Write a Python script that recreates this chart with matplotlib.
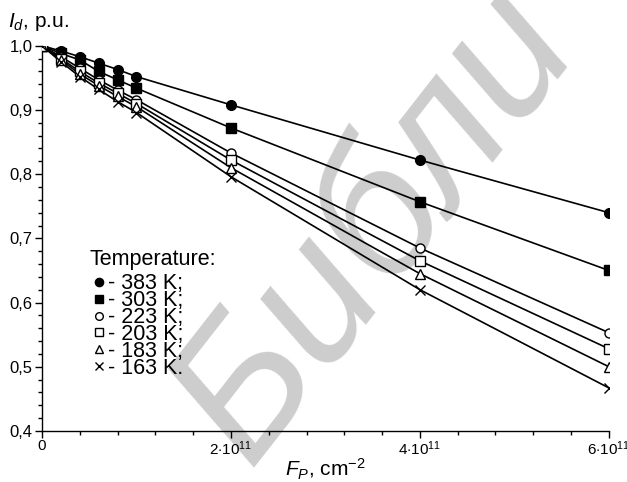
import numpy as np
import matplotlib
matplotlib.use("Agg")
import matplotlib.pyplot as plt
from matplotlib.ticker import MultipleLocator, FuncFormatter

plt.rcParams['font.family'] = ['Liberation Sans', 'DejaVu Sans']
plt.rcParams['mathtext.fontset'] = 'custom'
plt.rcParams['mathtext.rm'] = 'Liberation Sans'
plt.rcParams['mathtext.it'] = 'Liberation Sans:italic'

# fluence, 1e11 cm^-2
fluence = [0, 0.2, 0.4, 0.6, 0.8, 1.0, 2.0, 4.0, 6.0]

# relative current for each temperature
i_383 = [1.0, 0.992, 0.983, 0.973, 0.963, 0.952, 0.908, 0.822, 0.740]
i_303 = [1.0, 0.988, 0.978, 0.960, 0.947, 0.934, 0.872, 0.757, 0.650]
i_223 = [1.0, 0.983, 0.965, 0.947, 0.931, 0.916, 0.833, 0.685, 0.553]
i_203 = [1.0, 0.980, 0.960, 0.942, 0.926, 0.910, 0.822, 0.665, 0.528]
i_183 = [1.0, 0.978, 0.956, 0.938, 0.921, 0.905, 0.810, 0.645, 0.500]
i_163 = [1.0, 0.975, 0.952, 0.932, 0.913, 0.896, 0.796, 0.620, 0.467]

labels = ['- 383 K;', '- 303 K;', '- 223 K;', '- 203 K;', '- 183 K;', '- 163 K.']
series = [i_383, i_303, i_223, i_203, i_183, i_163]
markers = ['o', 's', 'o', 's', '^', 'x']
fills = ['k', 'k', 'w', 'w', 'w', 'k']
sizes = [7, 7, 6.5, 6.5, 6.5, 6.5]

fig = plt.figure(figsize=(6.27, 4.82), dpi=100)
ax = fig.add_axes([0.067, 0.106, 0.904, 0.799])

# watermark, kept under the axes
fig.text(0.60, 0.53, 'Библи', fontsize=135, color='#cdcdcd', rotation=52,
         ha='center', va='center', style='italic', zorder=-1)
ax.set_facecolor('none')

x = np.array(fluence) * 1e11
for ys, m, fc, ms, lab in zip(series, markers, fills, sizes, labels):
    ax.plot(x, ys, color='k', lw=1.2, zorder=2)
    ax.plot(x, ys, ls='none', marker=m, ms=ms, mfc=fc, mec='k', mew=1.0,
            zorder=3, label=lab)

ax.set_xlim(0, 6e11)
ax.set_ylim(0.4, 1.0)
ax.spines['top'].set_visible(False)
ax.spines['right'].set_visible(False)
ax.xaxis.set_major_locator(MultipleLocator(2e11))
ax.xaxis.set_minor_locator(MultipleLocator(0.4e11))
ax.yaxis.set_major_locator(MultipleLocator(0.1))
ax.yaxis.set_minor_locator(MultipleLocator(0.02))


def xfmt(v, pos):
    n = int(round(v / 1e11))
    if n == 0:
        return '0'
    return r'$%d{\cdot}10^{11}$' % n


ax.xaxis.set_major_formatter(FuncFormatter(xfmt))
ax.yaxis.set_major_formatter(FuncFormatter(lambda v, p: ('%.1f' % v).replace('.', ',')))
ax.tick_params(which='major', direction='out', length=5, width=1, labelsize=12, pad=2)
ax.tick_params(which='minor', direction='out', length=3, width=1)
ax.tick_params(axis='x', which='major', labelsize=11, pad=1)
for s in ax.spines.values():
    s.set_linewidth(1.0)

fig.text(0.012, 0.945, r'$I_d$, p.u.', fontsize=15)
ax.set_xlabel(r'$F_P$, cm$^{-2}$', fontsize=15, labelpad=-1)

leg = ax.legend(loc='upper left', bbox_to_anchor=(0.083, 0.473), frameon=False,
                title='Temperature:', fontsize=15.5, title_fontsize=15.5,
                handletextpad=0.0, labelspacing=-0.19, handlelength=0.9,
                borderpad=0.0, borderaxespad=0.0, markerscale=0.85)
leg._legend_box.align = 'left'
leg._legend_box.sep = 2.5

fig.savefig('out.png', dpi=100)
